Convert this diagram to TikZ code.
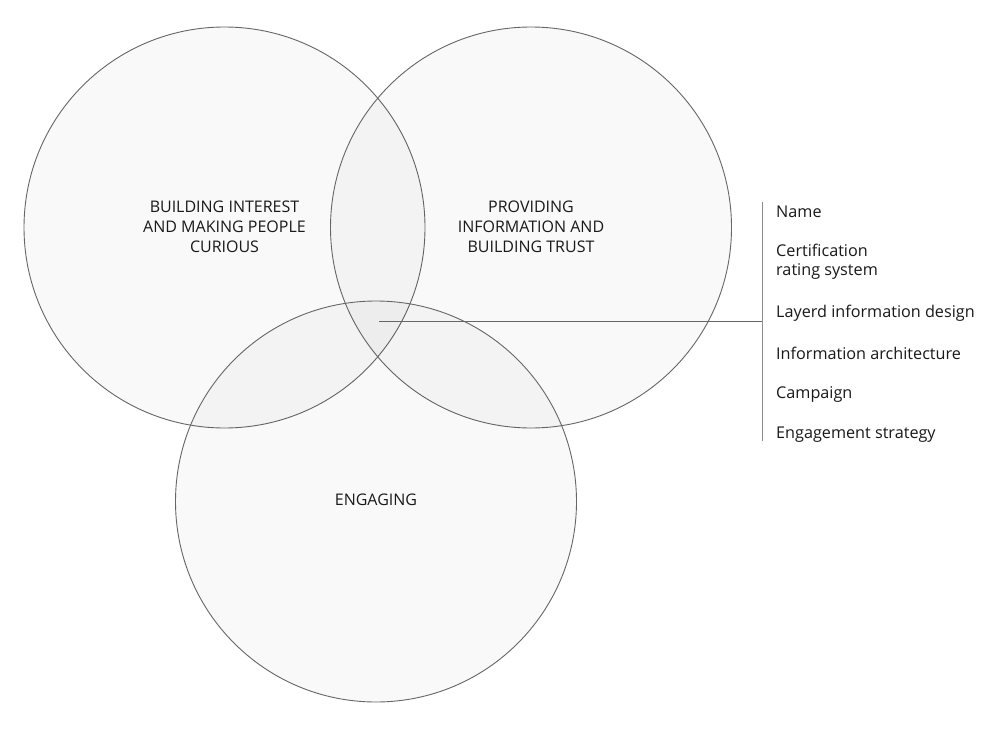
\documentclass[tikz,border=0pt]{standalone}
\usepackage{fontspec}
\setmainfont{Open Sans}
\begin{document}
\begin{tikzpicture}[x=1pt,y=-1pt,
  venn/.style={draw=black!60,line width=0.9pt,fill=black,fill opacity=0.025},
  lbl/.style={align=center,font=\fontsize{16}{20}\selectfont,text=black!90},
  item/.style={anchor=west,align=left,font=\fontsize{16.2}{19.5}\selectfont,text=black!90,inner sep=0pt}]
\useasboundingbox (0,0) rectangle (1000,730);
\fill[white] (0,0) rectangle (1000,730);
\draw[venn] (224.5,227.5) circle (200.5);
\draw[venn] (531,227.5) circle (200.5);
\draw[venn] (376,501.5) circle (200.5);
\node[lbl] (a) at (224.5,227) {BUILDING INTEREST\\AND MAKING PEOPLE\\CURIOUS};
\node[lbl] (b) at (531,227) {PROVIDING\\INFORMATION AND\\BUILDING TRUST};
\node[lbl] (c) at (376,500) {ENGAGING};
\coordinate (s) at (379,321);
\coordinate (bt) at (762,202);
\coordinate (bb) at (762,441);
\draw[black!60,line width=0.9pt] (s) -- (762,321);
\draw[black!45,line width=0.9pt] (bt) -- (bb);
\node[item] (i1) at (776,212) {Name};
\node[item] (i2) at (776,261.5) {Certification\\rating system};
\node[item] (i3) at (776,313) {Layerd information design};
\node[item] (i4) at (776,353) {Information architecture};
\node[item] (i5) at (776,394) {Campaign};
\node[item] (i6) at (776,435) {Engagement strategy};
\end{tikzpicture}
\end{document}
